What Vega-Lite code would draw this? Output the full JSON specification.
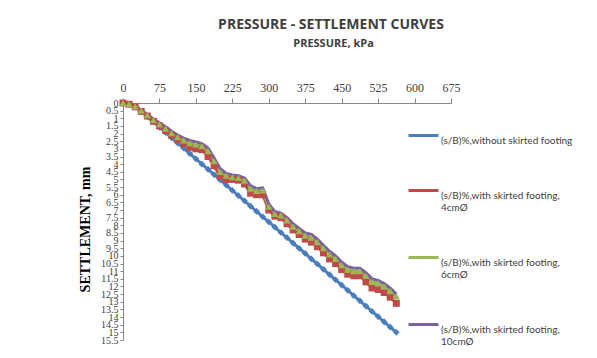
{
  "$schema": "https://vega.github.io/schema/vega-lite/v6.json",
  "autosize": {"type": "none"},
  "width": 328,
  "height": 237,
  "padding": {"left": 123, "top": 103, "right": 146, "bottom": 18},
  "background": "white",
  "title": {"text": "PRESSURE - SETTLEMENT CURVES", "anchor": "middle", "dx": 44, "fontSize": 14, "font": "Open Sans", "fontWeight": "bold", "color": "#404040", "offset": 5, "frame": "group"},
  "config": {"view": {"stroke": null}},
  "datasets": {
    "pts": [
      {"p": 0, "s": 0, "series": "A"}, {"p": 12.5, "s": 0.08, "series": "A"}, {"p": 25, "s": 0.25, "series": "A"}, {"p": 37.5, "s": 0.55, "series": "A"}, {"p": 50, "s": 0.9, "series": "A"}, {"p": 62.5, "s": 1.24, "series": "A"}, {"p": 75, "s": 1.59, "series": "A"}, {"p": 87.5, "s": 1.93, "series": "A"}, {"p": 100, "s": 2.28, "series": "A"}, {"p": 112.5, "s": 2.62, "series": "A"}, {"p": 125, "s": 2.96, "series": "A"}, {"p": 137.5, "s": 3.31, "series": "A"}, {"p": 150, "s": 3.65, "series": "A"}, {"p": 162.5, "s": 4.0, "series": "A"}, {"p": 175, "s": 4.34, "series": "A"}, {"p": 187.5, "s": 4.68, "series": "A"}, {"p": 200, "s": 5.03, "series": "A"}, {"p": 212.5, "s": 5.37, "series": "A"}, {"p": 225, "s": 5.72, "series": "A"}, {"p": 237.5, "s": 6.06, "series": "A"}, {"p": 250, "s": 6.4, "series": "A"}, {"p": 262.5, "s": 6.75, "series": "A"}, {"p": 275, "s": 7.09, "series": "A"}, {"p": 287.5, "s": 7.44, "series": "A"}, {"p": 300, "s": 7.78, "series": "A"}, {"p": 312.5, "s": 8.12, "series": "A"}, {"p": 325, "s": 8.47, "series": "A"}, {"p": 337.5, "s": 8.81, "series": "A"}, {"p": 350, "s": 9.16, "series": "A"}, {"p": 362.5, "s": 9.5, "series": "A"}, {"p": 375, "s": 9.84, "series": "A"}, {"p": 387.5, "s": 10.19, "series": "A"}, {"p": 400, "s": 10.53, "series": "A"}, {"p": 412.5, "s": 10.88, "series": "A"}, {"p": 425, "s": 11.22, "series": "A"}, {"p": 437.5, "s": 11.56, "series": "A"}, {"p": 450, "s": 11.91, "series": "A"}, {"p": 462.5, "s": 12.25, "series": "A"}, {"p": 475, "s": 12.6, "series": "A"}, {"p": 487.5, "s": 12.94, "series": "A"}, {"p": 500, "s": 13.28, "series": "A"}, {"p": 512.5, "s": 13.63, "series": "A"}, {"p": 525, "s": 13.97, "series": "A"}, {"p": 537.5, "s": 14.32, "series": "A"}, {"p": 550, "s": 14.66, "series": "A"}, {"p": 562.5, "s": 15.0, "series": "A"},

      {"p": 0, "s": 0, "series": "B"}, {"p": 12.5, "s": 0.08, "series": "B"}, {"p": 25, "s": 0.25, "series": "B"}, {"p": 37.5, "s": 0.55, "series": "B"}, {"p": 50, "s": 0.85, "series": "B"}, {"p": 62.5, "s": 1.2, "series": "B"}, {"p": 75, "s": 1.5, "series": "B"}, {"p": 87.5, "s": 1.8, "series": "B"}, {"p": 100, "s": 2.1, "series": "B"}, {"p": 112.5, "s": 2.4, "series": "B"}, {"p": 125, "s": 2.65, "series": "B"}, {"p": 137.5, "s": 2.9, "series": "B"}, {"p": 150, "s": 3.0, "series": "B"}, {"p": 162.5, "s": 3.05, "series": "B"}, {"p": 175, "s": 3.5, "series": "B"}, {"p": 187.5, "s": 4.1, "series": "B"}, {"p": 200, "s": 4.8, "series": "B"}, {"p": 212.5, "s": 5.0, "series": "B"}, {"p": 225, "s": 5.0, "series": "B"}, {"p": 237.5, "s": 5.05, "series": "B"}, {"p": 250, "s": 5.3, "series": "B"}, {"p": 262.5, "s": 5.9, "series": "B"}, {"p": 275, "s": 6.0, "series": "B"}, {"p": 287.5, "s": 6.0, "series": "B"}, {"p": 300, "s": 7.0, "series": "B"}, {"p": 312.5, "s": 7.4, "series": "B"}, {"p": 325, "s": 7.5, "series": "B"}, {"p": 337.5, "s": 7.9, "series": "B"}, {"p": 350, "s": 8.3, "series": "B"}, {"p": 362.5, "s": 8.6, "series": "B"}, {"p": 375, "s": 8.9, "series": "B"}, {"p": 387.5, "s": 9.1, "series": "B"}, {"p": 400, "s": 9.4, "series": "B"}, {"p": 412.5, "s": 9.8, "series": "B"}, {"p": 425, "s": 10.2, "series": "B"}, {"p": 437.5, "s": 10.5, "series": "B"}, {"p": 450, "s": 10.9, "series": "B"}, {"p": 462.5, "s": 11.2, "series": "B"}, {"p": 475, "s": 11.3, "series": "B"}, {"p": 487.5, "s": 11.3, "series": "B"}, {"p": 500, "s": 11.7, "series": "B"}, {"p": 512.5, "s": 12.1, "series": "B"}, {"p": 525, "s": 12.2, "series": "B"}, {"p": 537.5, "s": 12.4, "series": "B"}, {"p": 550, "s": 12.7, "series": "B"}, {"p": 562.5, "s": 13.1, "series": "B"},

      {"p": 0, "s": 0, "series": "C"}, {"p": 12.5, "s": 0.06, "series": "C"}, {"p": 25, "s": 0.22, "series": "C"}, {"p": 37.5, "s": 0.5, "series": "C"}, {"p": 50, "s": 0.8, "series": "C"}, {"p": 62.5, "s": 1.12, "series": "C"}, {"p": 75, "s": 1.4, "series": "C"}, {"p": 87.5, "s": 1.67, "series": "C"}, {"p": 100, "s": 1.97, "series": "C"}, {"p": 112.5, "s": 2.23, "series": "C"}, {"p": 125, "s": 2.45, "series": "C"}, {"p": 137.5, "s": 2.62, "series": "C"}, {"p": 150, "s": 2.72, "series": "C"}, {"p": 162.5, "s": 2.82, "series": "C"}, {"p": 175, "s": 3.15, "series": "C"}, {"p": 187.5, "s": 3.8, "series": "C"}, {"p": 200, "s": 4.5, "series": "C"}, {"p": 212.5, "s": 4.75, "series": "C"}, {"p": 225, "s": 4.85, "series": "C"}, {"p": 237.5, "s": 4.9, "series": "C"}, {"p": 250, "s": 5.08, "series": "C"}, {"p": 262.5, "s": 5.6, "series": "C"}, {"p": 275, "s": 5.75, "series": "C"}, {"p": 287.5, "s": 5.72, "series": "C"}, {"p": 300, "s": 6.78, "series": "C"}, {"p": 312.5, "s": 7.25, "series": "C"}, {"p": 325, "s": 7.35, "series": "C"}, {"p": 337.5, "s": 7.68, "series": "C"}, {"p": 350, "s": 8.08, "series": "C"}, {"p": 362.5, "s": 8.38, "series": "C"}, {"p": 375, "s": 8.68, "series": "C"}, {"p": 387.5, "s": 8.8, "series": "C"}, {"p": 400, "s": 9.1, "series": "C"}, {"p": 412.5, "s": 9.5, "series": "C"}, {"p": 425, "s": 9.9, "series": "C"}, {"p": 437.5, "s": 10.2, "series": "C"}, {"p": 450, "s": 10.6, "series": "C"}, {"p": 462.5, "s": 10.9, "series": "C"}, {"p": 475, "s": 11.0, "series": "C"}, {"p": 487.5, "s": 11.0, "series": "C"}, {"p": 500, "s": 11.3, "series": "C"}, {"p": 512.5, "s": 11.7, "series": "C"}, {"p": 525, "s": 11.8, "series": "C"}, {"p": 537.5, "s": 12.0, "series": "C"}, {"p": 550, "s": 12.3, "series": "C"}, {"p": 562.5, "s": 12.65, "series": "C"},

      {"p": 0, "s": 0, "series": "D"}, {"p": 12.5, "s": 0.05, "series": "D"}, {"p": 25, "s": 0.2, "series": "D"}, {"p": 37.5, "s": 0.45, "series": "D"}, {"p": 50, "s": 0.75, "series": "D"}, {"p": 62.5, "s": 1.05, "series": "D"}, {"p": 75, "s": 1.3, "series": "D"}, {"p": 87.5, "s": 1.55, "series": "D"}, {"p": 100, "s": 1.85, "series": "D"}, {"p": 112.5, "s": 2.1, "series": "D"}, {"p": 125, "s": 2.3, "series": "D"}, {"p": 137.5, "s": 2.45, "series": "D"}, {"p": 150, "s": 2.55, "series": "D"}, {"p": 162.5, "s": 2.65, "series": "D"}, {"p": 175, "s": 2.95, "series": "D"}, {"p": 187.5, "s": 3.6, "series": "D"}, {"p": 200, "s": 4.3, "series": "D"}, {"p": 212.5, "s": 4.6, "series": "D"}, {"p": 225, "s": 4.7, "series": "D"}, {"p": 237.5, "s": 4.75, "series": "D"}, {"p": 250, "s": 4.9, "series": "D"}, {"p": 262.5, "s": 5.4, "series": "D"}, {"p": 275, "s": 5.6, "series": "D"}, {"p": 287.5, "s": 5.55, "series": "D"}, {"p": 300, "s": 6.6, "series": "D"}, {"p": 312.5, "s": 7.1, "series": "D"}, {"p": 325, "s": 7.2, "series": "D"}, {"p": 337.5, "s": 7.5, "series": "D"}, {"p": 350, "s": 7.9, "series": "D"}, {"p": 362.5, "s": 8.2, "series": "D"}, {"p": 375, "s": 8.5, "series": "D"}, {"p": 387.5, "s": 8.6, "series": "D"}, {"p": 400, "s": 8.9, "series": "D"}, {"p": 412.5, "s": 9.3, "series": "D"}, {"p": 425, "s": 9.7, "series": "D"}, {"p": 437.5, "s": 10.0, "series": "D"}, {"p": 450, "s": 10.4, "series": "D"}, {"p": 462.5, "s": 10.7, "series": "D"}, {"p": 475, "s": 10.8, "series": "D"}, {"p": 487.5, "s": 10.8, "series": "D"}, {"p": 500, "s": 11.1, "series": "D"}, {"p": 512.5, "s": 11.5, "series": "D"}, {"p": 525, "s": 11.6, "series": "D"}, {"p": 537.5, "s": 11.8, "series": "D"}, {"p": 550, "s": 12.1, "series": "D"}, {"p": 562.5, "s": 12.5, "series": "D"}
    ],
    "names": [
      {"series": "A", "name": "(s/B)%,without skirted footing"},
      {"series": "B", "name": "(s/B)%,with skirted footing, 4cmØ"},
      {"series": "C", "name": "(s/B)%,with skirted footing, 6cmØ"},
      {"series": "D", "name": "(s/B)%,with skirted footing, 10cmØ"}
    ]
  },
  "data": {"name": "pts"},
  "transform": [
    {"lookup": "series", "from": {"data": {"name": "names"}, "key": "series", "fields": ["name"]}}
  ],
  "encoding": {
    "x": {
      "field": "p", "type": "quantitative",
      "scale": {"domain": [0, 675], "nice": false, "zero": true},
      "axis": {
        "orient": "top", "title": "PRESSURE, kPa", "values": [0, 75, 150, 225, 300, 375, 450, 525, 600, 675],
        "grid": false, "domainColor": "#868686", "tickColor": "#868686", "tickSize": 5,
        "labelFont": "Liberation Serif", "labelFontSize": 12, "labelColor": "#404040", "labelPadding": 4,
        "labelFlush": false, "labelOverlap": false,
        "titleFont": "Open Sans", "titleFontSize": 11, "titleFontWeight": "bold", "titleColor": "#404040",
        "titleX": 210, "titleY": -60, "titleBaseline": "middle", "titleAnchor": "middle"
      }
    },
    "y": {
      "field": "s", "type": "quantitative",
      "scale": {"domain": [0, 15.5], "reverse": true, "nice": false},
      "axis": {
        "orient": "left", "title": "SETTLEMENT, mm", "format": "~g",
        "values": [0, 0.5, 1, 1.5, 2, 2.5, 3, 3.5, 4, 4.5, 5, 5.5, 6, 6.5, 7, 7.5, 8, 8.5, 9, 9.5, 10, 10.5, 11, 11.5, 12, 12.5, 13, 13.5, 14, 14.5, 15, 15.5],
        "grid": false, "domainColor": "#868686", "tickColor": "#868686", "tickSize": 3,
        "labelFont": "Liberation Serif", "labelFontSize": 10, "labelColor": "#404040", "labelPadding": 2,
        "labelFlush": false, "labelOverlap": false,
        "titleFont": "Liberation Serif", "titleFontSize": 14, "titleFontWeight": "bold", "titleColor": "#000000",
        "titleX": -38, "titleY": 126, "titleBaseline": "middle", "titleAnchor": "middle", "titleAngle": -90
      }
    },
    "color": {
      "field": "name", "type": "nominal",
      "scale": {
        "domain": ["(s/B)%,without skirted footing", "(s/B)%,with skirted footing, 4cmØ", "(s/B)%,with skirted footing, 6cmØ", "(s/B)%,with skirted footing, 10cmØ"],
        "range": ["#4A7EBB", "#BE4B48", "#98B954", "#7D60A0"]
      },
      "legend": {
        "title": null, "orient": "none", "legendX": 284, "legendY": 16,
        "symbolType": "stroke", "symbolSize": 900, "symbolStrokeWidth": 3,
        "labelFont": "Lato", "labelFontSize": 10, "labelColor": "#404040", "labelLimit": 200,
        "labelExpr": "indexof(datum.label, ', ') > 0 ? [slice(datum.label, 0, indexof(datum.label, ', ') + 1), slice(datum.label, indexof(datum.label, ', ') + 2)] : datum.label",
        "labelBaseline": "top", "labelOffset": 1,
        "rowPadding": 28
      }
    }
  },
  "layer": [
    {"mark": {"type": "line", "strokeWidth": 3}, "encoding": {"detail": {"field": "series"}}},
    {
      "mark": {"type": "point", "filled": true, "opacity": 1},
      "encoding": {
        "shape": {
          "field": "series", "type": "nominal",
          "scale": {"domain": ["A", "B", "C", "D"], "range": ["diamond", "square", "triangle-up", "M-1,-1L1,1M1,-1L-1,1M0,-1.6L0,0.2"]},
          "legend": null
        },
        "size": {
          "field": "series", "type": "nominal",
          "scale": {"domain": ["A", "B", "C", "D"], "range": [45, 55, 10, 40]},
          "legend": null
        },
        "strokeWidth": {"value": 1.5}
      }
    }
  ]
}
